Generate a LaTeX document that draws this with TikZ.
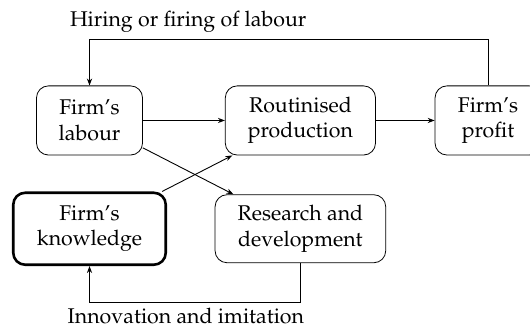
\documentclass[tikz,border=0pt]{standalone}
\usepackage[T1]{fontenc}
\usepackage{mathpazo}
\usetikzlibrary{arrows.meta}

\begin{document}
\begin{tikzpicture}[
    font=\fontsize{10.7pt}{12.8pt}\selectfont,
    box/.style={draw, rounded corners=6pt, align=center, minimum height=1.22cm, inner sep=2pt},
    flow/.style={-{Stealth[length=3.5pt,width=2.6pt]}, line width=0.45pt}
  ]
  % Define the spacing of the grid
  \def\ColGap{3.72}
  \def\RowGap{1.91}

  % Fix the frame of the figure
  \useasboundingbox (-1.579,2.125) rectangle (7.77,-3.642);

  % Draw the boxes
  \node[box, minimum width=1.87cm] (labour) at (0,0) {Firm's\\labour};
  \node[box, minimum width=2.65cm] (routine) at (\ColGap,0) {Routinised\\production};
  \node[box, minimum width=1.87cm] (profit) at (7.03,0) {Firm's\\profit};
  \node[box, minimum width=2.69cm, minimum height=1.27cm, line width=1.3pt] (knowledge) at (0,-\RowGap) {Firm's\\knowledge};
  \node[box, minimum width=3.01cm, minimum height=1.2cm] (rnd) at (\ColGap,-\RowGap) {Research and\\development};

  % Label the loops
  \node[anchor=base] (hiring) at (1.74,1.65) {Hiring or firing of labour};
  \node[anchor=base] (innovation) at (1.70,-3.58) {Innovation and imitation};

  % Corners of the loops
  \coordinate (toploop) at (0,1.43);
  \coordinate (bottomloop) at (0,-3.21);

  % Draw the arrows
  \draw[flow] (labour) -- (routine);
  \draw[flow] (routine) -- (profit);
  \draw[flow] (labour) -- (rnd);
  \draw[flow] (knowledge) -- (routine);
  \draw[flow] (profit.north) |- (toploop) -- (labour.north);
  \draw[flow] (rnd.south) |- (bottomloop) -- (knowledge.south);
\end{tikzpicture}
\end{document}
